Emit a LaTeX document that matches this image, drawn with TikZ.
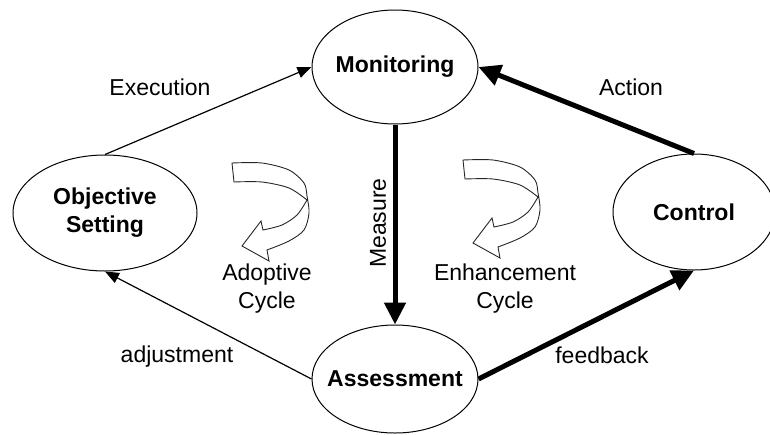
\documentclass[tikz,border=0pt]{standalone}
\usepackage{fontspec}
\setmainfont{Liberation Sans}
\usetikzlibrary{shapes.geometric,arrows.meta}

\tikzset{
	stage/.style={draw, ellipse, line width=1pt, inner sep=0pt, font=\fontsize{23}{28}\selectfont\bfseries},
	lbl/.style={align=center},
	thinarrow/.style={line width=1.2pt, -{Triangle[length=14pt,width=11pt]}},
	thickarrow/.style={line width=5pt, -{Triangle[length=22pt,width=21pt]}},
	% hollow turning arrow, tail at the pic origin
	turn/.pic={
		\draw[line width=0.9pt, black!85]
			plot[smooth] coordinates {(0,0) (30,0) (57,7) (72,20) (75,33) (77,50) (72,67) (57,78) (35,87)}
			-- (37,98) -- (10,83) -- (29,58) -- (31,67)
			-- plot[smooth] coordinates {(31,67) (50,62) (65,52) (75,37)}
			-- plot[smooth] coordinates {(75,37) (57,25) (30,19) (2,19)}
			-- cycle;
	}
}

\begin{document}
\begin{tikzpicture}[x=1pt, y=-1pt, font=\fontsize{23}{28}\selectfont]
	\useasboundingbox (0,0) rectangle (770,434);

	\node[stage, minimum width=166pt, minimum height=114pt] (mon) at (395,67) {\makebox[0pt]{Monitoring}};
	\node[stage, minimum width=184pt, minimum height=116pt, align=center] (obj) at (105,213) {Objective\\Setting};
	\node[stage, minimum width=162pt, minimum height=116pt] (ctl) at (694,212) {\makebox[0pt]{Control}};
	\node[stage, minimum width=166pt, minimum height=108pt] (ass) at (395,379) {\makebox[0pt]{Assessment}};

	\draw[thinarrow] (obj.north) -- (mon.west);
	\draw[thickarrow] (ctl.north) -- (mon.east);
	\draw[thickarrow] (mon.south) -- (ass.north);
	\draw[thinarrow] (ass.west) -- (obj.south);
	\draw[thickarrow] (ass.east) -- (ctl.south);

	\node[lbl] (exe) at (160,87) {Execution};
	\node[lbl] (act) at (631,87) {Action};
	\node[lbl, rotate=90] (mea) at (378,223) {Measure};
	\node[lbl] (adj) at (177,357) {adjustment};
	\node[lbl] (fbk) at (602,355) {feedback};

	\pic at (232,163) {turn};
	\pic at (463,160) {turn};
	\node[lbl] (adc) at (267,289) {Adoptive\\Cycle};
	\node[lbl] (enc) at (505,289) {Enhancement\\Cycle};
\end{tikzpicture}
\end{document}
